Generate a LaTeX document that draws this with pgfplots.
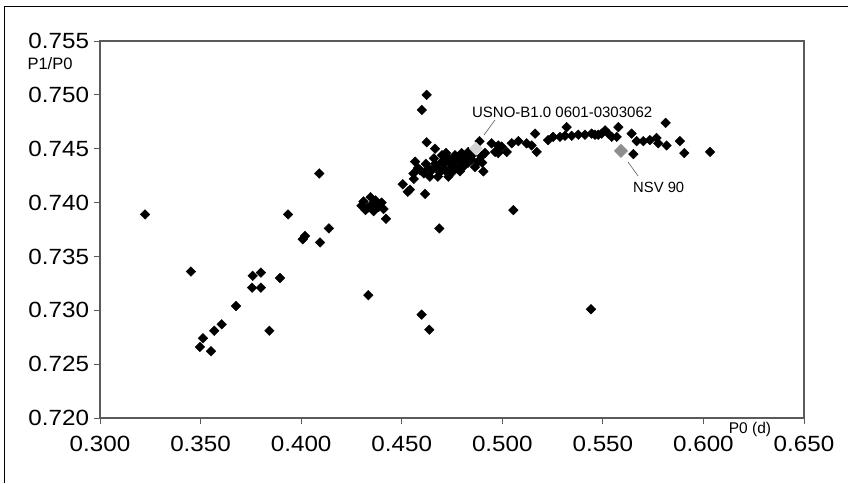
\documentclass[border=0pt]{standalone}
\usepackage{fontspec}
\setmainfont{Liberation Sans}
\usepackage{pgfplots}
\pgfplotsset{compat=1.18}
\usepackage{pgfplotstable}
\definecolor{axgray}{HTML}{5A5A5A}
\definecolor{usnogray}{HTML}{D4D4D4}
\definecolor{nsvgray}{HTML}{8E8E8E}

% P0 (d)  P1/P0
\pgfplotstableread{
x y
0.3224 0.7389
0.3452 0.7336
0.3759 0.7332
0.3800 0.7335
0.3756 0.7321
0.3800 0.7321
0.3895 0.7330
0.3676 0.7304
0.3497 0.7266
0.3512 0.7274
0.3552 0.7262
0.3568 0.7281
0.3605 0.7287
0.3842 0.7281
0.4090 0.7427
0.3935 0.7389
0.4019 0.7369
0.4008 0.7366
0.4138 0.7376
0.4094 0.7363
0.4334 0.7314
0.4300 0.7397
0.4310 0.7401
0.4330 0.7395
0.4345 0.7405
0.4350 0.7398
0.4370 0.7402
0.4385 0.7396
0.4400 0.7400
0.4410 0.7394
0.4360 0.7392
0.4320 0.7393
0.4422 0.7385
0.4505 0.7417
0.4541 0.7412
0.4530 0.7410
0.4616 0.7408
0.4687 0.7376
0.4624 0.7500
0.4600 0.7486
0.4624 0.7456
0.4666 0.7450
0.4567 0.7438
0.5055 0.7393
0.4599 0.7296
0.4637 0.7282
0.5441 0.7301
0.4558 0.7427
0.4591 0.7430
0.4632 0.7432
0.4666 0.7436
0.4699 0.7438
0.4732 0.7441
0.4765 0.7444
0.4798 0.7446
0.4831 0.7447
0.4715 0.7430
0.4748 0.7433
0.4732 0.7424
0.4798 0.7436
0.4847 0.7440
0.4897 0.7443
0.4914 0.7446
0.4947 0.7455
0.4964 0.7447
0.4980 0.7453
0.4906 0.7429
0.4864 0.7433
0.4887 0.7457
0.4580 0.7432
0.4610 0.7427
0.4620 0.7436
0.4650 0.7430
0.4660 0.7441
0.4680 0.7432
0.4690 0.7428
0.4700 0.7444
0.4710 0.7436
0.4720 0.7446
0.4740 0.7437
0.4750 0.7428
0.4760 0.7438
0.4770 0.7432
0.4780 0.7441
0.4790 0.7429
0.4800 0.7440
0.4810 0.7434
0.4820 0.7444
0.4830 0.7437
0.4850 0.7444
0.4880 0.7438
0.4900 0.7437
0.4680 0.7424
0.4560 0.7422
0.4640 0.7424
0.4997 0.7452
0.4980 0.7446
0.5047 0.7455
0.5022 0.7447
0.5080 0.7457
0.5121 0.7455
0.5163 0.7464
0.5146 0.7453
0.5171 0.7447
0.5228 0.7458
0.5253 0.7461
0.5287 0.7461
0.5320 0.7470
0.5312 0.7462
0.5345 0.7462
0.5378 0.7463
0.5411 0.7463
0.5444 0.7464
0.5477 0.7463
0.5494 0.7464
0.5527 0.7464
0.5511 0.7467
0.5544 0.7461
0.5577 0.7470
0.5569 0.7461
0.5643 0.7464
0.5668 0.7457
0.5701 0.7457
0.5734 0.7458
0.5767 0.7460
0.5775 0.7455
0.5812 0.7474
0.5817 0.7453
0.5883 0.7457
0.5905 0.7446
0.6033 0.7447
0.5652 0.7445
0.5461 0.7463
}\stars

\begin{document}
\begin{tikzpicture}
\path[use as bounding box] (0pt,0pt) rectangle (848pt,483pt);
\draw[black, line width=1pt] (4pt,0pt) -- (4pt,476pt) -- (848pt,476pt);
\begin{axis}[
  at={(100pt,65pt)}, anchor=south west,
  scale only axis, width=704pt, height=377pt,
  xmin=0.3, xmax=0.65, ymin=0.72, ymax=0.755,
  xtick={0.30,0.35,0.40,0.45,0.50,0.55,0.60,0.65},
  ytick={0.720,0.725,0.730,0.735,0.740,0.745,0.750,0.755},
  scaled ticks=false,
  xtick pos=bottom, ytick pos=left,
  tick align=outside, major tick length=6pt,
  tick style={axgray, line width=1pt},
  axis line style={axgray, line width=1.2pt},
  /pgf/number format/.cd, fixed, fixed zerofill, precision=3,
    assume math mode=true, /pgfplots/.cd,
  ticklabel style={font=\fontsize{22}{25}\selectfont, xscale=1.1},
  xticklabel style={yshift=-9pt},
  yticklabel style={xshift=-1pt},
  clip=false,
]
\addplot[only marks, mark=square*, mark size=3.4pt,
  mark options={rotate=45, fill=black, draw=black}] table[x=x, y=y] {\stars};
\addplot[only marks, mark=square*, mark size=4.7pt,
  mark options={rotate=45, fill=usnogray, draw=usnogray}] coordinates {(0.4869,0.7450)};
\addplot[only marks, mark=square*, mark size=4.7pt,
  mark options={rotate=45, fill=nsvgray, draw=nsvgray}] coordinates {(0.5590,0.7448)};
\draw[axgray, line width=0.6pt] (axis cs:0.4964,0.74767) -- (axis cs:0.4909,0.74627);
\draw[axgray, line width=0.6pt] (axis cs:0.5625,0.74377) -- (axis cs:0.5675,0.74247);
\node[anchor=west, inner sep=0pt, font=\fontsize{15}{17}\selectfont]
  at (axis cs:0.4849,0.74841) {USNO-B1.0 0601-0303062};
\node[anchor=west, inner sep=0pt, font=\fontsize{14.8}{17}\selectfont]
  at (axis cs:0.5650,0.74145) {NSV 90};
\end{axis}
\node[font=\fontsize{16.5}{18}\selectfont, inner sep=0pt] at (50pt,419pt) {P1/P0};
\node[font=\fontsize{15.5}{18}\selectfont, inner sep=0pt] at (750pt,54pt) {P0 (d)};
\end{tikzpicture}
\end{document}
